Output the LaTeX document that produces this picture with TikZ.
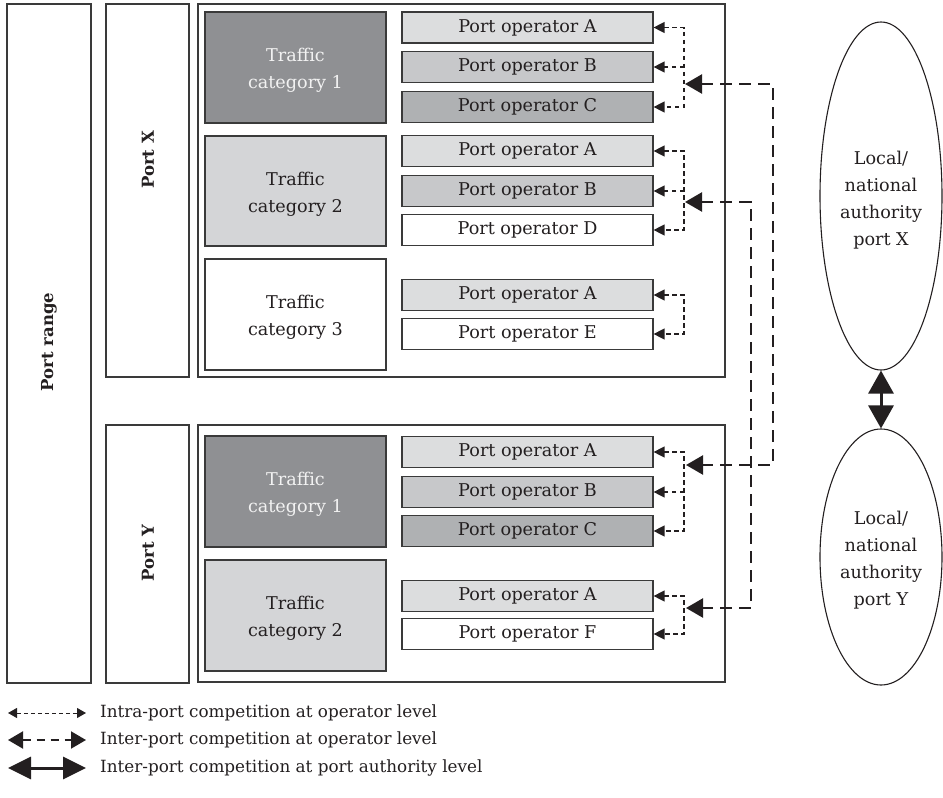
\documentclass[tikz,border=0pt]{standalone}
\usepackage{fontspec}
\setmainfont{DejaVu Serif}
\usetikzlibrary{arrows.meta,shapes.geometric}

\definecolor{ink}{HTML}{231F20}
\definecolor{edge}{HTML}{3A3A3A}
\definecolor{tcdark}{HTML}{8F9093}
\definecolor{tclight}{HTML}{D4D5D7}
\definecolor{opA}{HTML}{DCDDDE}
\definecolor{opB}{HTML}{C7C8CA}
\definecolor{opC}{HTML}{AFB1B3}
\definecolor{paletext}{HTML}{F2F2F2}

\tikzset{
  frame/.style={draw=edge, line width=1.2pt, inner sep=0pt, rectangle},
  opbox/.style={frame, minimum width=251pt, minimum height=31pt, text=ink},
  tcbox/.style={frame, minimum width=181pt, minimum height=111pt},
  tctext/.style={align=center, text=ink, inner sep=0pt, yshift=-3pt},
  portlabel/.style={rotate=90, font=\fontsize{16.5}{20}\selectfont\bfseries, text=ink, inner sep=0pt},
  intra/.style={draw=ink, line width=1.3pt, dash pattern=on 4.5pt off 3.5pt},
  intratip/.style={-{Triangle[length=11pt,width=11pt]}},
  intraboth/.style={{Triangle[length=11pt,width=11pt]}-{Triangle[length=11pt,width=11pt]}},
  inter/.style={draw=ink, line width=2.4pt, dash pattern=on 12pt off 7pt,
    {Triangle[length=17pt,width=19pt]}-{Triangle[length=17pt,width=19pt]}},
  auth/.style={draw=ink, line width=3pt,
    {Triangle[length=23pt,width=25pt]}-{Triangle[length=23pt,width=25pt]}},
  authority/.style={ellipse, draw=ink, line width=1.1pt, inner sep=0pt, minimum width=122pt},
  authtext/.style={align=center, text=ink, inner sep=0pt},
  legtext/.style={anchor=west, inner sep=0pt, text=ink, font=\fontsize{16.8}{20}\selectfont}
}

\begin{document}
\begin{tikzpicture}[x=1pt, y=-1pt, font=\fontsize{17.6}{27}\selectfont]
\useasboundingbox (0,0) rectangle (943,798);

% ---- outer frames ----
\node[frame, minimum width=84pt, minimum height=679pt] (range) at (49,343.5) {};
\node[portlabel] (rangeT) at (49,342) {Port range};

\node[frame, minimum width=83pt, minimum height=373pt] (portXbox) at (147.5,190.5) {};
\node[portlabel] (portXT) at (148,160) {Port X};
\node[frame, minimum width=83pt, minimum height=258pt] (portYbox) at (147.5,554) {};
\node[portlabel] (portYT) at (148,553) {Port Y};

\node[frame, minimum width=527pt, minimum height=373pt] (contX) at (461.5,190.5) {};
\node[frame, minimum width=527pt, minimum height=257pt] (contY) at (461.5,553.5) {};

% ---- traffic categories ----
\node[tcbox, fill=tcdark] (tcX1) at (295.5,67.5) {};
\node[tcbox, fill=tclight, minimum height=110pt] (tcX2) at (295.5,191) {};
\node[tcbox, fill=white] (tcX3) at (295.5,314.5) {};
\node[tcbox, fill=tcdark] (tcY1) at (295.5,491.5) {};
\node[tcbox, fill=tclight] (tcY2) at (295.5,615.5) {};
\node[tctext, text=paletext] (tcX1t) at (tcX1.center) {Traffic\\category 1};
\node[tctext] (tcX2t) at (tcX2.center) {Traffic\\category 2};
\node[tctext] (tcX3t) at (tcX3.center) {Traffic\\category 3};
\node[tctext, text=paletext] (tcY1t) at (tcY1.center) {Traffic\\category 1};
\node[tctext] (tcY2t) at (tcY2.center) {Traffic\\category 2};

% ---- port operators ----
\node[opbox, fill=opA] (x1a) at (527.5,27.5) {Port operator A};
\node[opbox, fill=opB] (x1b) at (527.5,67) {Port operator B};
\node[opbox, fill=opC] (x1c) at (527.5,107) {Port operator C};

\node[opbox, fill=opA] (x2a) at (527.5,151) {Port operator A};
\node[opbox, fill=opB] (x2b) at (527.5,191) {Port operator B};
\node[opbox, fill=white] (x2d) at (527.5,230) {Port operator D};

\node[opbox, fill=opA] (x3a) at (527.5,295) {Port operator A};
\node[opbox, fill=white] (x3e) at (527.5,334) {Port operator E};

\node[opbox, fill=opA] (y1a) at (527.5,452) {Port operator A};
\node[opbox, fill=opB] (y1b) at (527.5,492) {Port operator B};
\node[opbox, fill=opC] (y1c) at (527.5,531) {Port operator C};

\node[opbox, fill=opA] (y2a) at (527.5,596) {Port operator A};
\node[opbox, fill=white] (y2f) at (527.5,634) {Port operator F};

% ---- intra-port connectors ----
\coordinate (x1ja) at (684,27.5);  \coordinate (x1jb) at (684,67);  \coordinate (x1jc) at (684,107);
\coordinate (x2ja) at (684,151);   \coordinate (x2jb) at (684,191); \coordinate (x2jc) at (684,230);
\coordinate (x3ja) at (684,295);   \coordinate (x3jb) at (684,334);
\coordinate (y1ja) at (684,452);   \coordinate (y1jb) at (684,492); \coordinate (y1jc) at (684,531);
\coordinate (y2ja) at (684,596);   \coordinate (y2jb) at (684,634);

\draw[intra, intraboth] (x1a.east) -- (x1ja) -- (x1jc) -- (x1c.east);
\draw[intra, intratip] (x1jb) -- (x1b.east);
\draw[intra, intraboth] (x2a.east) -- (x2ja) -- (x2jc) -- (x2d.east);
\draw[intra, intratip] (x2jb) -- (x2b.east);
\draw[intra, intraboth] (x3a.east) -- (x3ja) -- (x3jb) -- (x3e.east);
\draw[intra, intraboth] (y1a.east) -- (y1ja) -- (y1jc) -- (y1c.east);
\draw[intra, intratip] (y1jb) -- (y1b.east);
\draw[intra, intraboth] (y2a.east) -- (y2ja) -- (y2jb) -- (y2f.east);

% ---- inter-port connectors at operator level ----
\coordinate (i1s) at (685,84);  \coordinate (i1r) at (773,84);
\coordinate (i1q) at (773,465); \coordinate (i1e) at (686,465);
\draw[inter] (i1s) -- (i1r) -- (i1q) -- (i1e);

\coordinate (i2s) at (685,202); \coordinate (i2r) at (751,202);
\coordinate (i2q) at (751,608); \coordinate (i2e) at (686,608);
\draw[inter] (i2s) -- (i2r) -- (i2q) -- (i2e);

% ---- port authorities ----
\node[authority, minimum height=348pt] (authX) at (881,196) {};
\node[authority, minimum height=256pt] (authY) at (881,557) {};
\node[authtext] (authXt) at (881,200) {Local/\\national\\authority\\port X};
\node[authtext] (authYt) at (881,560) {Local/\\national\\authority\\port Y};
\draw[auth] (authX.south) -- (authY.north);

% ---- legend ----
\coordinate (lg1a) at (8,713); \coordinate (lg1b) at (86,713);
\coordinate (lg2a) at (8,740); \coordinate (lg2b) at (86,740);
\coordinate (lg3a) at (8,768); \coordinate (lg3b) at (86,768);
\draw[draw=ink, line width=1pt, dash pattern=on 4pt off 3pt,
  {Triangle[length=9pt,width=10pt]}-{Triangle[length=9pt,width=10pt]}] (lg1a) -- (lg1b);
\draw[draw=ink, line width=2pt, dash pattern=on 8pt off 6pt,
  {Triangle[length=15pt,width=17pt]}-{Triangle[length=15pt,width=17pt]}] (lg2a) -- (lg2b);
\draw[draw=ink, line width=3pt,
  {Triangle[length=23pt,width=22pt]}-{Triangle[length=23pt,width=22pt]}] (lg3a) -- (lg3b);
\node[legtext] (lg1t) at (100,713) {Intra-port competition at operator level};
\node[legtext] (lg2t) at (100,740) {Inter-port competition at operator level};
\node[legtext] (lg3t) at (100,768) {Inter-port competition at port authority level};
\end{tikzpicture}
\end{document}
